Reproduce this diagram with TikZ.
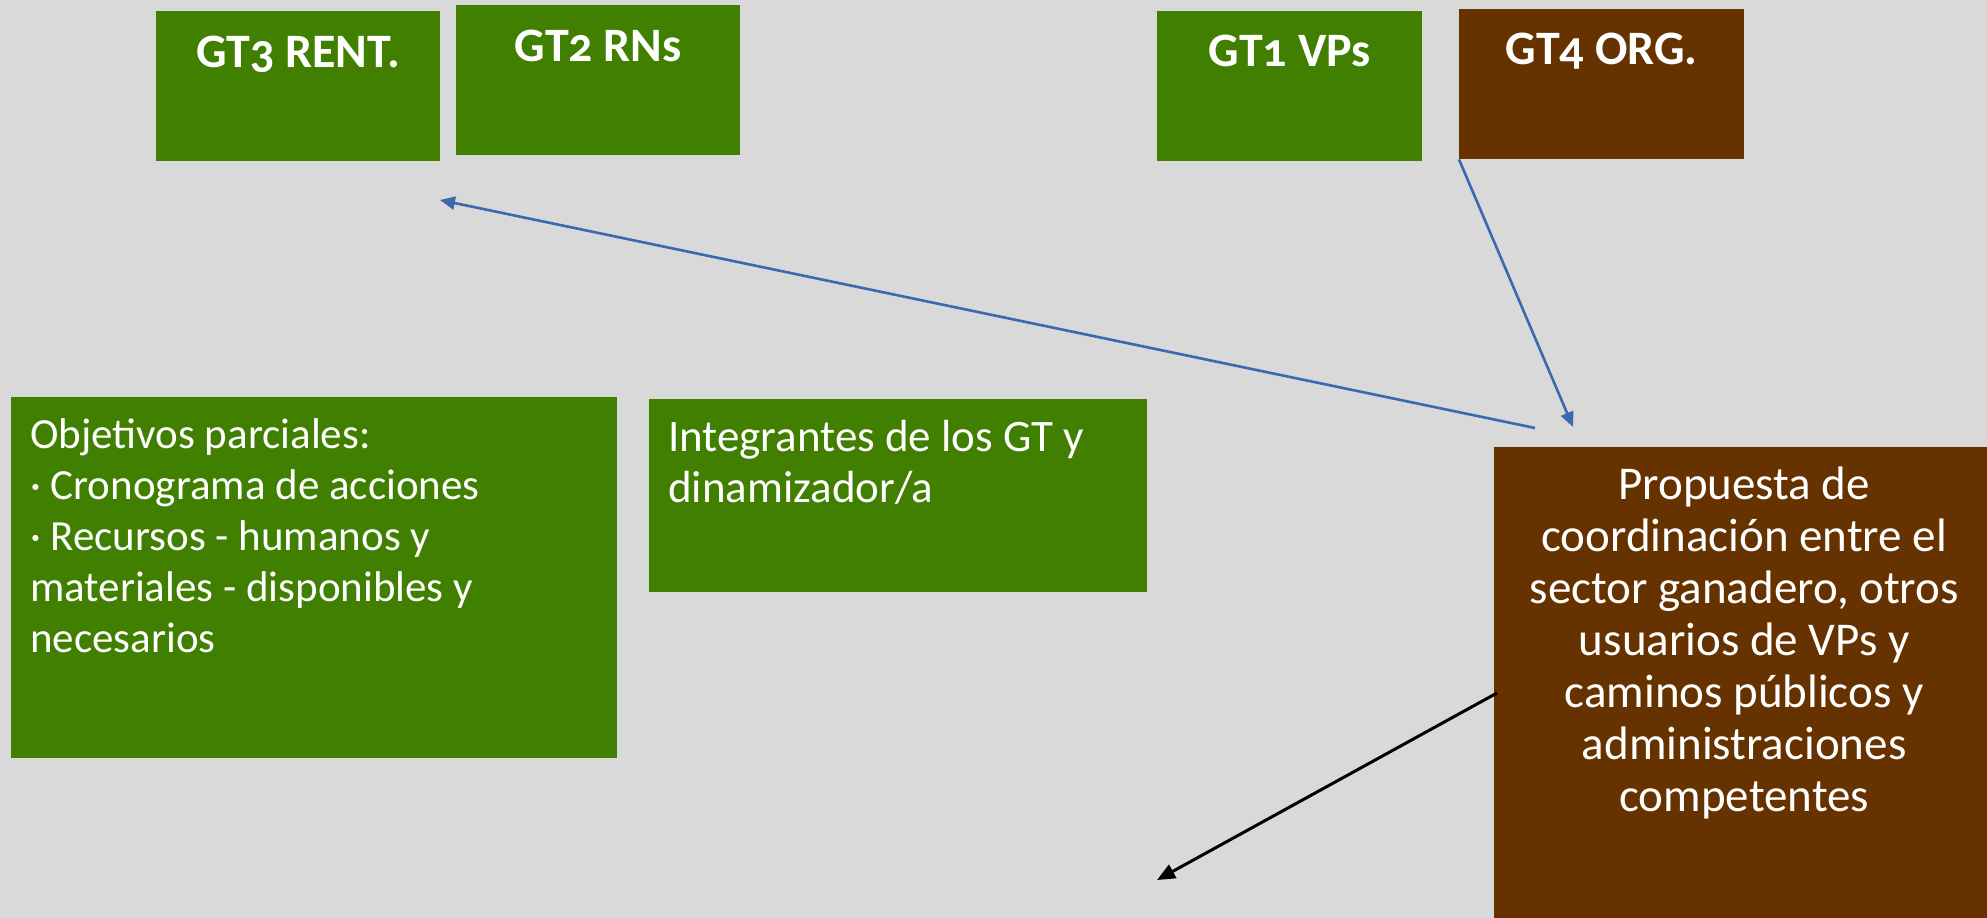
\documentclass[tikz,border=0pt]{standalone}
\usepackage{fontspec}
\setmainfont{Carlito}[Numbers=OldStyle]
\usetikzlibrary{arrows.meta}
\definecolor{bg}{HTML}{D9D9D9}
\definecolor{vgreen}{HTML}{407F00}
\definecolor{vbrown}{HTML}{663300}
\definecolor{vblue}{HTML}{3A69AE}
\newcommand{\headtxt}{\fontsize{48}{56}\selectfont\bfseries}
\newcommand{\bodytxt}[1]{\fontsize{#1}{51}\selectfont}
\tikzset{
  boxbase/.style={draw=none, anchor=north west, inner sep=0pt, text=white},
  greenbox/.style={boxbase, fill=vgreen},
  brownbox/.style={boxbase, fill=vbrown},
  bluearrow/.style={draw=vblue, line width=2.6pt, -{Triangle[length=15pt,width=13pt]}},
  blackarrow/.style={draw=black, line width=3pt, -{Triangle[length=18pt,width=15pt]}},
}
\begin{document}
\begin{tikzpicture}[x=1pt,y=-1pt]
\fill[bg] (0,0) rectangle (1987,918);
\useasboundingbox (0,0) rectangle (1987,918);

\node[greenbox] (gt3) at (156,11) {\parbox[t][150pt][t]{284pt}{\centering\headtxt\rule{0pt}{56pt}GT3 RENT.}};
\node[greenbox] (gt2) at (456,5) {\parbox[t][150pt][t]{284pt}{\centering\headtxt\rule{0pt}{56pt}GT2 RNs}};
\node[greenbox] (gt1) at (1157,11) {\parbox[t][150pt][t]{265pt}{\centering\headtxt\rule{0pt}{55pt}GT1 VPs}};
\node[brownbox] (gt4) at (1459,9) {\parbox[t][150pt][t]{285pt}{\centering\headtxt\rule{0pt}{55pt}GT4 ORG.}};

\node[greenbox] (obj) at (11,397) {\parbox[t][361pt][t]{606pt}{\raggedright\leftskip=19pt\bodytxt{43}\rule{0pt}{51pt}Objetivos parciales:\\
· Cronograma de acciones\\
· Recursos - humanos y\\
materiales - disponibles y\\
necesarios}};

\node[greenbox] (integ) at (649,399) {\parbox[t][193pt][t]{498pt}{\raggedright\leftskip=19pt\bodytxt{45}\rule{0pt}{52pt}Integrantes de los GT y\\
dinamizador/a}};

\node[brownbox] (prop) at (1494,447) {\parbox[t][480pt][t]{500pt}{\centering\bodytxt{47}\baselineskip=52pt\rule{0pt}{52pt}Propuesta de\\
coordinación entre el\\
sector ganadero, otros\\
usuarios de VPs y\\
caminos públicos y\\
administraciones\\
competentes}};

\coordinate (b1s) at (1535,428);
\coordinate (b1e) at (440,200);
\coordinate (b2e) at (1573,427);
\coordinate (k1s) at (1497,693);
\coordinate (k1e) at (1157,880);

\draw[bluearrow] (b1s) -- (b1e);
\draw[bluearrow] (gt4.south west) -- (b2e);
\draw[blackarrow] (k1s) -- (k1e);
\end{tikzpicture}
\end{document}
